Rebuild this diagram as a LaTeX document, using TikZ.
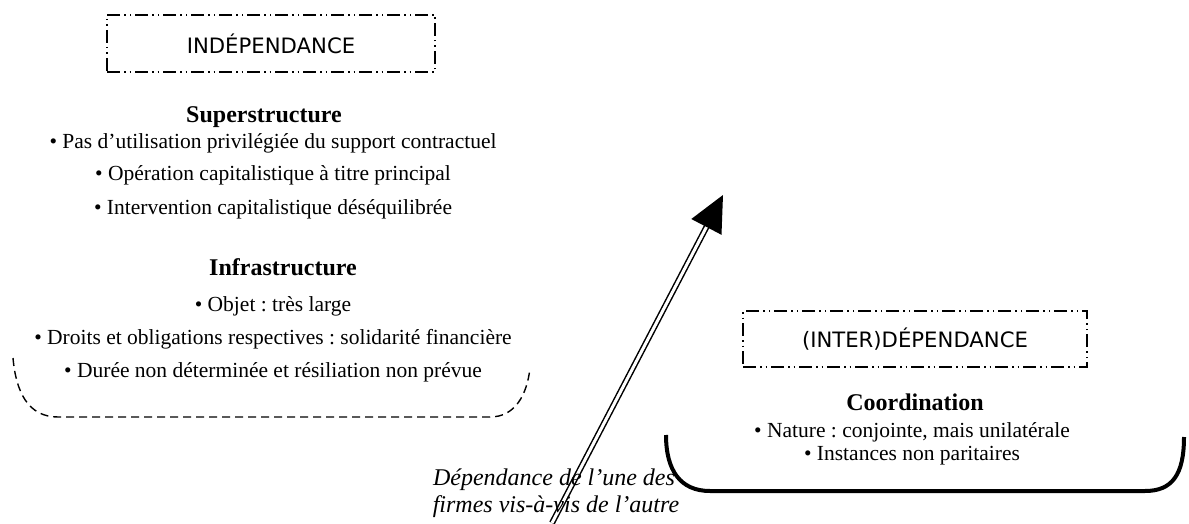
\documentclass[tikz,border=0pt]{standalone}
\usepackage{fontspec}
\setmainfont{Liberation Serif}
\newfontfamily\comicfont{DejaVu Sans}
\frenchspacing
\begin{document}
\begin{tikzpicture}[x=1pt,y=-1pt,
  ddbox/.style={draw, line width=1.2pt, dash pattern=on 13pt off 4pt on 1.5pt off 4pt on 1.5pt off 4pt,
     font=\comicfont\fontsize{21.2}{25}\selectfont, inner sep=0pt},
  body/.style={anchor=base, inner sep=0pt, font=\frenchspacing\fontsize{21.5}{25}\selectfont},
  title/.style={body, font=\fontsize{24}{28}\selectfont\bfseries},
  note/.style={body, font=\fontsize{24}{28}\selectfont\itshape},
  dashbr/.style={line width=1.4pt, dash pattern=on 8pt off 5pt},
  solidbr/.style={line width=4pt},
  dblarrow/.style={double, line width=1.5pt, double distance=3pt}]
\useasboundingbox (0,0) rectangle (1189,524);

% left block
\node[ddbox, minimum width=328pt, minimum height=57pt] (ind) at (271,43.5) {INDÉPENDANCE};
\node[title] (sup) at (264,123) {Superstructure};
\node[body] (s1) at (273,149) {• Pas d’utilisation privilégiée du support contractuel};
\node[body] (s2) at (273,181) {• Opération capitalistique à titre principal};
\node[body] (s3) at (273,214) {• Intervention capitalistique déséquilibrée};
\node[title] (inf) at (283,275) {Infrastructure};
\node[body] (i1) at (273,311) {• Objet : très large};
\node[body] (i2) at (273,344) {• Droits et obligations respectives : solidarité financière};
\node[body] (i3) at (273,377) {• Durée non déterminée et résiliation non prévue};
\coordinate (lb1) at (13,358);
\coordinate (lb2) at (530,368);
\draw[dashbr] (lb1) .. controls (16,392) and (28,417) .. (58,417) -- (490,417) .. controls (515,417) and (527,395) .. (lb2);

% right block
\node[ddbox, minimum width=344pt, minimum height=56pt] (inter) at (915,339) {(INTER)DÉPENDANCE};
\node[title] (coo) at (915,410) {Coordination};
\node[body] (c1) at (912,437) {• Nature : conjointe, mais unilatérale};
\node[body] (c2) at (912,460) {• Instances non paritaires};
\coordinate (rb1) at (666,435);
\coordinate (rb2) at (1184,437);
\draw[solidbr] (rb1) .. controls (666,470) and (680,491) .. (710,491) -- (1145,491) .. controls (1172,491) and (1184,475) .. (rb2);

% arrow
\coordinate (as) at (552,523);
\coordinate (ab) at (707.5,225);
\coordinate (at) at (723,195);
\coordinate (hl) at (691.3,219);
\coordinate (hr) at (721.5,234.8);
\draw[dblarrow] (as) -- (ab);
\fill (at) -- (hl) -- (hr) -- cycle;
\node[note] (n1) at (554,485) {Dépendance de l’une des};
\node[note] (n2) at (556,512) {firmes vis-à-vis de l’autre};
\end{tikzpicture}
\end{document}
